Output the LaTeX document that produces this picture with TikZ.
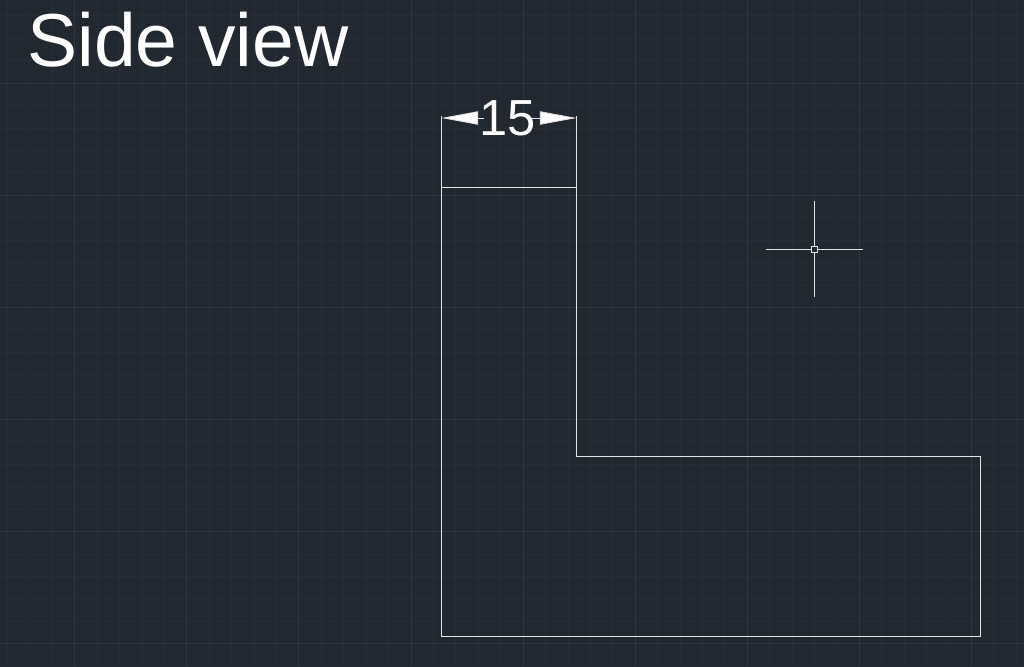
\documentclass[tikz,border=0pt]{standalone}
\usepackage{fontspec}
\setmainfont{Liberation Sans}
\usetikzlibrary{arrows.meta}
\definecolor{sheet}{RGB}{33,40,48}
\definecolor{gridminor}{RGB}{38,45,54}
\definecolor{gridmajor}{RGB}{47,54,66}
\definecolor{edge}{RGB}{228,228,228}

\begin{document}
\begin{tikzpicture}[x=0.75pt, y=-0.75pt]
            \tikzstyle{minorline} = [gridminor, line width=0.75pt]
            \tikzstyle{majorline} = [gridmajor, line width=0.75pt]
            \tikzstyle{outline} = [edge, line width=0.7pt]
            \tikzstyle{dimline} = [outline, -{Triangle[length=27.5pt, width=10pt, fill=white]}]
            \useasboundingbox (0, 0) rectangle (1024, 667);
            \fill[sheet] (0, 0) rectangle (1024, 667);
            % grid
            \foreach \k in {0,...,45}
                \draw[minorline] ({7.5+22.42*\k}, 0) -- ({7.5+22.42*\k}, 667);
            \foreach \k in {0,...,29}
                \draw[minorline] (0, {16+22.42*\k}) -- (1024, {16+22.42*\k});
            \foreach \k in {0,...,8}
                \draw[majorline] ({74.7+112.1*\k}, 0) -- ({74.7+112.1*\k}, 667);
            \foreach \k in {0,...,5}
                \draw[majorline] (0, {83.3+112.1*\k}) -- (1024, {83.3+112.1*\k});
            % profile
            \coordinate (extleft) at (441.5, 116);
            \coordinate (extright) at (576.5, 116);
            \coordinate (dimleft) at (441.5, 118);
            \coordinate (dimright) at (576.5, 118);
            \coordinate (topleft) at (441.5, 187);
            \coordinate (topright) at (576.5, 187);
            \coordinate (inner) at (576.5, 456);
            \coordinate (footright) at (980.5, 456);
            \coordinate (baseright) at (980.5, 636);
            \coordinate (baseleft) at (441.5, 636);
            \draw[outline] (extleft) -- (baseleft) -- (baseright) -- (footright)
                -- (inner) -- (extright);
            \draw[outline] (topleft) -- (topright);
            % dimension
            \node[text=white, inner ysep=0pt, inner xsep=-3pt, font=\fontsize{38}{38}\selectfont] (widthlabel)
                at (508, 118) {15};
            \draw[dimline] (widthlabel) -- (dimleft);
            \draw[dimline] (widthlabel) -- (dimright);
            % cursor
            \node[draw=edge, line width=0.7pt, minimum size=4.5pt, inner sep=0pt] (cursor) at (814, 249) {};
            \coordinate (cursorwest) at (766, 249);
            \coordinate (cursoreast) at (863, 249);
            \coordinate (cursornorth) at (814, 201);
            \coordinate (cursorsouth) at (814, 297);
            \draw[outline] (cursor) -- (cursorwest);
            \draw[outline] (cursor) -- (cursoreast);
            \draw[outline] (cursor) -- (cursornorth);
            \draw[outline] (cursor) -- (cursorsouth);
            % title
            \node[text=white, inner sep=0pt, anchor=base west, font=\fontsize{56.3}{56.3}\selectfont] (title)
                at (27, 67) {Side view};
        \end{tikzpicture}
\end{document}
